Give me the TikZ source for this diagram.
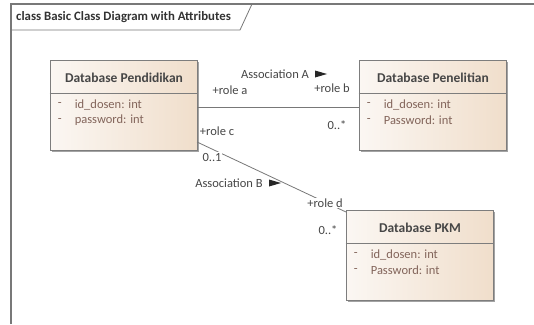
\documentclass[tikz,border=0pt]{standalone}
\usepackage{fontspec}
\setmainfont{Carlito}
\usetikzlibrary{shadows}

\definecolor{framegrey}{RGB}{120,120,120}
\definecolor{boxline}{RGB}{125,125,125}
\definecolor{fillleft}{RGB}{251,247,243}
\definecolor{fillright}{RGB}{240,222,203}
\definecolor{labelgrey}{RGB}{70,70,70}
\definecolor{attrbrown}{RGB}{130,100,90}

\tikzset{
  classbox/.style={draw=boxline, line width=0.8pt, left color=fillleft, right color=fillright,
    minimum width=147pt, minimum height=90pt,
    drop shadow={shadow xshift=2pt, shadow yshift=-2pt, fill=black!45, opacity=0.8}},
  classname/.style={font=\bfseries\fontsize{13.5}{15}\selectfont, text=labelgrey},
  attr/.style={anchor=west, inner sep=0pt, font=\fontsize{12.5}{14}\selectfont, text=attrbrown},
  assoc/.style={draw=framegrey, line width=0.8pt},
  lbl/.style={inner sep=0pt, font=\fontsize{12.5}{14}\selectfont, text=labelgrey}
}

\begin{document}
\begin{tikzpicture}[x=1pt,y=-1pt]
    \useasboundingbox (0,0) rectangle (534,324);
    \fill[white] (0,0) rectangle (534,324);

    % Frame and title tab
    \draw[framegrey, line width=1.2pt] (11,324) -- (11,4) -- (534,4);
    \draw[framegrey, line width=0.8pt] (11,30) -- (240,30) -- (252,4);
    \node[anchor=west, inner sep=0pt, font=\bfseries\fontsize{12.8}{14}\selectfont, text=black!80] (title) at (16,17) {class Basic Class Diagram with Attributes};

    % Classes
    \node[classbox] (pend) at (123.5,105) {};
    \node[classbox] (pen) at (432.5,105) {};
    \node[classbox] (pkm) at (419.5,255) {};

    % Class names
    \node[classname] (pendname) at (124,78) {Database Pendidikan};
    \node[classname] (penname) at (433,78) {Database Penelitian};
    \node[classname] (pkmname) at (420,228) {Database PKM};

    % Dividers
    \draw[boxline, line width=0.8pt] ([yshift=-34pt]pend.north west) -- ([yshift=-34pt]pend.north east);
    \draw[boxline, line width=0.8pt] ([yshift=-34pt]pen.north west) -- ([yshift=-34pt]pen.north east);
    \draw[boxline, line width=0.8pt] ([yshift=-34pt]pkm.north west) -- ([yshift=-34pt]pkm.north east);

    % Attributes
    \node[attr] (penddash1) at ([xshift=8pt,yshift=-45pt]pend.north west) {-};
    \node[attr] (penddash2) at ([xshift=8pt,yshift=-61pt]pend.north west) {-};
    \node[attr] (pendattr1) at ([xshift=25pt,yshift=-45pt]pend.north west) {id\_dosen: int};
    \node[attr] (pendattr2) at ([xshift=25pt,yshift=-61pt]pend.north west) {password: int};

    \node[attr] (pendash1) at ([xshift=8pt,yshift=-45pt]pen.north west) {-};
    \node[attr] (pendash2) at ([xshift=8pt,yshift=-61pt]pen.north west) {-};
    \node[attr] (penattr1) at ([xshift=25pt,yshift=-45pt]pen.north west) {id\_dosen: int};
    \node[attr] (penattr2) at ([xshift=25pt,yshift=-61pt]pen.north west) {Password: int};

    \node[attr] (pkmdash1) at ([xshift=8pt,yshift=-45pt]pkm.north west) {-};
    \node[attr] (pkmdash2) at ([xshift=8pt,yshift=-61pt]pkm.north west) {-};
    \node[attr] (pkmattr1) at ([xshift=25pt,yshift=-45pt]pkm.north west) {id\_dosen: int};
    \node[attr] (pkmattr2) at ([xshift=25pt,yshift=-61pt]pkm.north west) {Password: int};

    % Association A
    \draw[assoc] ([yshift=-2pt]pend.east) -- ([yshift=-2pt]pen.west);
    \node[lbl] (assocA) at (275,74) {Association A};
    \fill[black!85] (315,70.5) -- (327,74) -- (315,77.5) -- cycle;
    \node[lbl] (rolea) at (230,90) {+role a};
    \node[lbl] (roleb) at (332,88) {+role b};
    \node[lbl] (multb) at (337,125) {0..*};

    % Association B
    \coordinate (bstart) at (197,142);
    \coordinate (bend) at (346,212);
    \draw[assoc] (bstart) -- (bend);
    \node[lbl, fill=white, inner sep=1pt] (rolec) at (217,131) {+role c};
    \node[lbl, fill=white, inner sep=1pt] (multc) at (212,157) {0..1};
    \node[lbl] (assocB) at (229,183) {Association B};
    \fill[black!85] (269,179.5) -- (281,183) -- (269,186.5) -- cycle;
    \node[lbl, fill=white, inner sep=1pt] (roled) at (325,203) {+role d};
    \node[lbl] (multd) at (328,230) {0..*};
\end{tikzpicture}
\end{document}
